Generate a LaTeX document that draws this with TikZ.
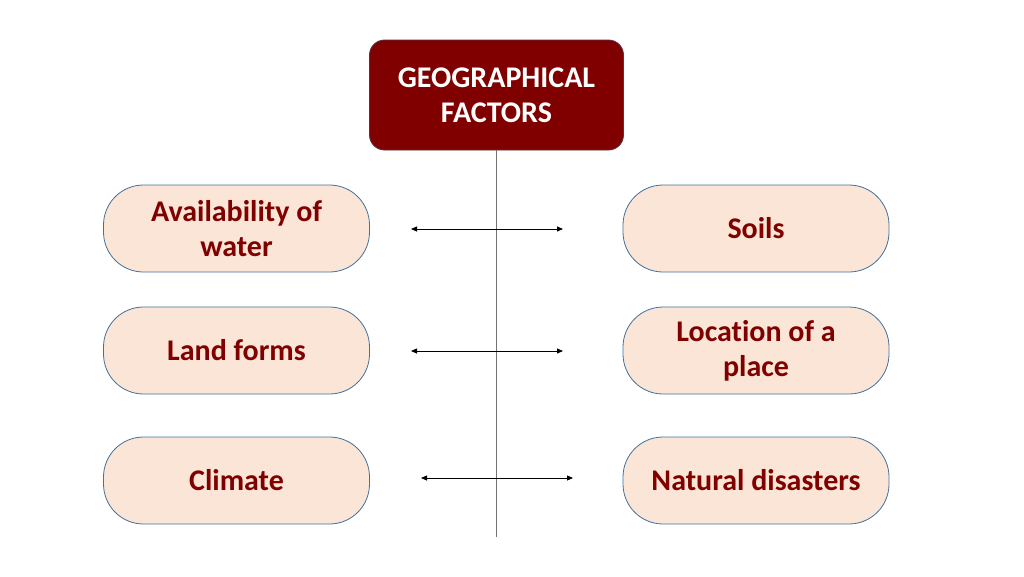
\documentclass[tikz,border=0pt]{standalone}
\usepackage{fontspec}
\setmainfont{Carlito}[Ligatures=NoCommon]
\usetikzlibrary{arrows.meta}
\definecolor{factorred}{HTML}{800000}
\definecolor{titleline}{HTML}{5A3046}
\definecolor{peach}{HTML}{FBE5D6}
\definecolor{pillline}{HTML}{41719C}
\begin{document}
\begin{tikzpicture}[x=1pt,y=-1pt,
  title/.style={draw=titleline,fill=factorred,rounded corners=15pt,line width=0.8pt,
    minimum width=254pt,minimum height=110pt,align=center,text=white,
    font=\bfseries\fontsize{30}{35}\selectfont},
  factor/.style={draw=pillline,fill=peach,rounded corners=40pt,line width=0.8pt,
    minimum width=266pt,minimum height=87pt,align=center,text=factorred,
    font=\bfseries\fontsize{30}{35}\selectfont},
  stemline/.style={draw=black!55,line width=0.8pt},
  link/.style={{Triangle[length=6pt,width=5pt]}-{Triangle[length=6pt,width=5pt]},line width=0.8pt}]
\useasboundingbox (0,0) rectangle (1024,576);
\node[title] (geo) at (496.5,95) {GEOGRAPHICAL\\FACTORS};
\node[factor] (water) at (236.5,228.5) {Availability of\\water};
\node[factor] (soils) at (756,228.5) {Soils};
\node[factor] (land) at (236.5,350.5) {Land forms};
\node[factor] (location) at (756,350.5) {Location of a\\place};
\node[factor] (climate) at (236.5,480.5) {Climate};
\node[factor] (disaster) at (756,480.5) {Natural disasters};
\coordinate (stem) at (496.5,537);
\draw[stemline] (geo.south) -- (stem);
\coordinate (w1) at (411,229);
\coordinate (s1) at (563,229);
\coordinate (l1) at (411,351);
\coordinate (p1) at (563,351);
\coordinate (c1) at (421,478);
\coordinate (n1) at (573,478);
\draw[link] (w1) -- (s1);
\draw[link] (l1) -- (p1);
\draw[link] (c1) -- (n1);
\end{tikzpicture}
\end{document}
